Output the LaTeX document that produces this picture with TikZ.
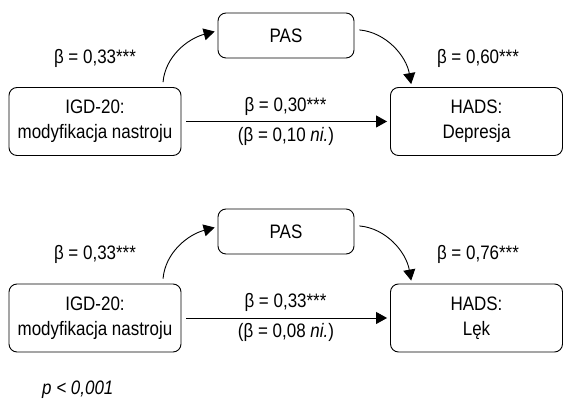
\documentclass[tikz,border=0pt]{standalone}
\usepackage{fontspec}
\setmainfont{Liberation Sans}[FakeStretch=0.87]
\usetikzlibrary{positioning, arrows.meta}

\tikzset{
  box/.style={draw, rounded corners=8pt, line width=0.9pt, align=center, inner sep=0pt},
  bigbox/.style={box, minimum width=172pt, minimum height=68pt},
  pasbox/.style={box, minimum width=136pt, minimum height=45pt},
  arr/.style={line width=0.9pt, -{Triangle[length=11pt,width=12pt]}, shorten <=5pt, shorten >=3pt},
  coef/.style={anchor=base, inner sep=0pt}
}

\begin{document}
\begin{tikzpicture}[font=\fontsize{19.5}{25}\selectfont]
        \useasboundingbox (0,0) rectangle (563pt,401pt);
        % Depresja
        \node[bigbox] (igd1) at (95pt,279.5pt) {IGD-20:\\modyfikacja nastroju};
        \node[pasbox] (pas1) at (286pt,365.5pt) {PAS};
        \node[bigbox] (hads1) at (476.5pt,279.5pt) {HADS:\\Depresja};
        \draw[arr] (igd1.27) to[out=85, in=195] (pas1.176);
        \draw[arr] (pas1.5) to[out=-5, in=100] (hads1.152);
        \draw[arr] (igd1) -- (hads1);
        \node[coef] at (95pt,337pt) {β = 0,33***};
        \node[coef] at (478pt,337pt) {β = 0,60***};
        \node[coef] at (285.5pt,289pt) {β = 0,30***};
        \node[coef] at (286pt,259pt) {(β = 0,10 \textit{ni.})};
        % Lek
        \node[bigbox] (igd2) at (95pt,83pt) {IGD-20:\\modyfikacja nastroju};
        \node[pasbox] (pas2) at (286pt,169.5pt) {PAS};
        \node[bigbox] (hads2) at (476.5pt,83pt) {HADS:\\Lęk};
        \draw[arr] (igd2.27) to[out=85, in=195] (pas2.176);
        \draw[arr] (pas2.5) to[out=-5, in=100] (hads2.152);
        \draw[arr] (igd2) -- (hads2);
        \node[coef] at (95pt,141pt) {β = 0,33***};
        \node[coef] at (478pt,141pt) {β = 0,76***};
        \node[coef] at (285.5pt,93pt) {β = 0,33***};
        \node[coef] at (286pt,63pt) {(β = 0,08 \textit{ni.})};
        \node[coef, anchor=base west] at (42pt,6pt) {\textit{p < 0,001}};
\end{tikzpicture}
\end{document}
